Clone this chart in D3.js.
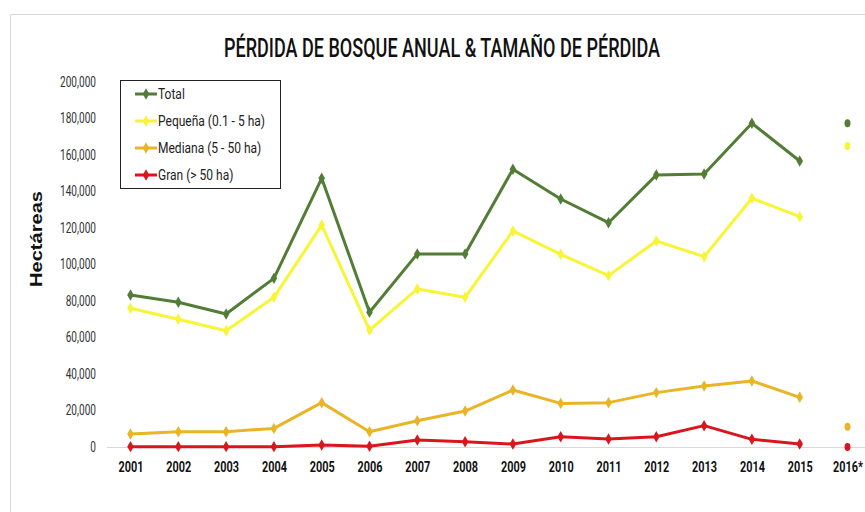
<!DOCTYPE html>
<html>
<head>
<meta charset="utf-8">
<script src="https://cdn.jsdelivr.net/npm/d3@7"></script>
<style>
  body { margin: 0; background: #fff; }
  svg { display: block; }
  .narrow { font-family: Roboto, "Liberation Sans", sans-serif; }
</style>
</head>
<body>
<svg id="chart" width="865" height="512"></svg>
<script>
// data
const years = ["2001", "2002", "2003", "2004", "2005", "2006", "2007", "2008",
  "2009", "2010", "2011", "2012", "2013", "2014", "2015", "2016*"];
const total = [83300, 79300, 72900, 92400, 147200, 73800, 105800, 105800,
  152200, 135900, 122900, 149000, 149600, 177400, 156700, 177400];
const pequena = [76000, 70000, 63700, 82000, 121600, 64100, 86600, 82000,
  118400, 105600, 93900, 112900, 104300, 136300, 126200, 164900];
const mediana = [7100, 8400, 8400, 10200, 24300, 8400, 14400, 19700,
  31200, 23900, 24300, 29800, 33400, 36200, 27200, 11100];
const gran = [200, 200, 200, 200, 1100, 400, 3800, 2900,
  1600, 5600, 4400, 5600, 11700, 4200, 1600, 0];
const seriesNames = ["Total", "Pequeña (0.1 - 5 ha)", "Mediana (5 - 50 ha)", "Gran (> 50 ha)"];
const seriesColors = ["#537d36", "#f7f536", "#e9b527", "#d9161e"];
const yTicks = [0, 20000, 40000, 60000, 80000, 100000, 120000, 140000, 160000, 180000, 200000];

const svg = d3.select("#chart");
const W = 865, H = 512;

// no narrow font installed, so squeeze texts: k = target width / natural width of a sample
function squeeze(sel, sample, target) {
  const probe = svg.append("text").attr("class", "narrow")
    .attr("font-size", sel.attr("font-size"))
    .attr("font-weight", sel.attr("font-weight"))
    .text(sample);
  const k = target / probe.node().getComputedTextLength();
  probe.remove();
  sel.each(function () {
    const len = this.getComputedTextLength();
    d3.select(this).attr("textLength", len * k).attr("lengthAdjust", "spacingAndGlyphs");
  });
}

// light frame of the chart area
svg.append("path")
  .attr("d", `M10.5,${H} V14.5 H${W}`)
  .attr("fill", "none")
  .attr("stroke", "#d9d9d9");

const x = d3.scalePoint().domain(years).range([130.5, 847.5]);
const y = d3.scaleLinear().domain([0, 200000]).range([447, 82]);

// title
const title = svg.append("text")
  .attr("class", "narrow")
  .attr("x", 442).attr("y", 57)
  .attr("text-anchor", "middle")
  .attr("font-size", 25)
  .attr("font-weight", 500)
  .attr("fill", "#111")
  .text("PÉRDIDA DE BOSQUE ANUAL & TAMAÑO DE PÉRDIDA");
squeeze(title, title.text(), 436);

// baseline
svg.append("line")
  .attr("x1", 107).attr("x2", W)
  .attr("y1", y(0) + 0.5).attr("y2", y(0) + 0.5)
  .attr("stroke", "#d9d9d9");

// y axis labels
const yAxis = d3.axisLeft(y).tickValues(yTicks).tickSize(0).tickPadding(0)
  .tickFormat(d3.format(","));
const yg = svg.append("g")
  .attr("transform", "translate(96,0)")
  .call(yAxis)
  .call(g => g.select(".domain").remove());
const yLabels = yg.selectAll("text")
  .attr("class", "narrow")
  .attr("font-size", 14)
  .attr("fill", "#333");
squeeze(yLabels, "200,000", 36);

// x axis labels
const xAxis = d3.axisBottom(x).tickSize(0).tickPadding(0);
const xg = svg.append("g")
  .attr("transform", "translate(0,461)")
  .call(xAxis)
  .call(g => g.select(".domain").remove());
const xLabels = xg.selectAll("text")
  .attr("class", "narrow")
  .attr("font-size", 15)
  .attr("font-weight", "bold")
  .attr("fill", "#111");
squeeze(xLabels, "2001", 25);

// y title
svg.append("text")
  .attr("transform", "translate(42,239) rotate(-90)")
  .attr("text-anchor", "middle")
  .attr("font-family", "Liberation Sans, Arial, sans-serif")
  .attr("font-size", 16)
  .attr("font-weight", "bold")
  .attr("fill", "#111")
  .attr("textLength", 96)
  .attr("lengthAdjust", "spacingAndGlyphs")
  .text("Hectáreas");

const allSeries = [total, pequena, mediana, gran];
const diamond = d3.symbol().type(d3.symbolDiamond).size(38);

// lines up to 2015, 2016* is a lone point
const line = d3.line()
  .x((d, i) => x(years[i]))
  .y(d => y(d));

allSeries.forEach((vals, k) => {
  const g = svg.append("g");
  g.append("path")
    .datum(vals.slice(0, 15))
    .attr("d", line)
    .attr("fill", "none")
    .attr("stroke", seriesColors[k])
    .attr("stroke-width", 3)
    .attr("stroke-linejoin", "round");
  g.selectAll("path.pt")
    .data(vals.slice(0, 15))
    .join("path")
    .attr("class", "pt")
    .attr("d", diamond)
    .attr("transform", (d, i) => `translate(${x(years[i])},${y(d)})`)
    .attr("fill", seriesColors[k]);
  g.append("ellipse")
    .attr("cx", x(years[15]))
    .attr("cy", y(vals[15]))
    .attr("rx", 3).attr("ry", 4)
    .attr("fill", seriesColors[k]);
});

// legend
const legend = svg.append("g");
legend.append("rect")
  .attr("x", 120.5).attr("y", 80.5)
  .attr("width", 160).attr("height", 108)
  .attr("fill", "#fff")
  .attr("stroke", "#222");
const ly = d3.scalePoint().domain(seriesNames).range([94, 175]);
seriesNames.forEach((name, k) => {
  const row = legend.append("g").attr("transform", `translate(0,${ly(name)})`);
  row.append("line")
    .attr("x1", 135).attr("x2", 157)
    .attr("stroke", seriesColors[k])
    .attr("stroke-width", 3);
  row.append("path")
    .attr("d", diamond)
    .attr("transform", "translate(146,0)")
    .attr("fill", seriesColors[k]);
  row.append("text")
    .attr("class", "narrow legend-label")
    .attr("x", 158).attr("y", 5)
    .attr("font-size", 15)
    .attr("fill", "#222")
    .text(name);
});
squeeze(legend.selectAll("text.legend-label"), "Pequeña (0.1 - 5 ha)", 107);
</script>
</body>
</html>
